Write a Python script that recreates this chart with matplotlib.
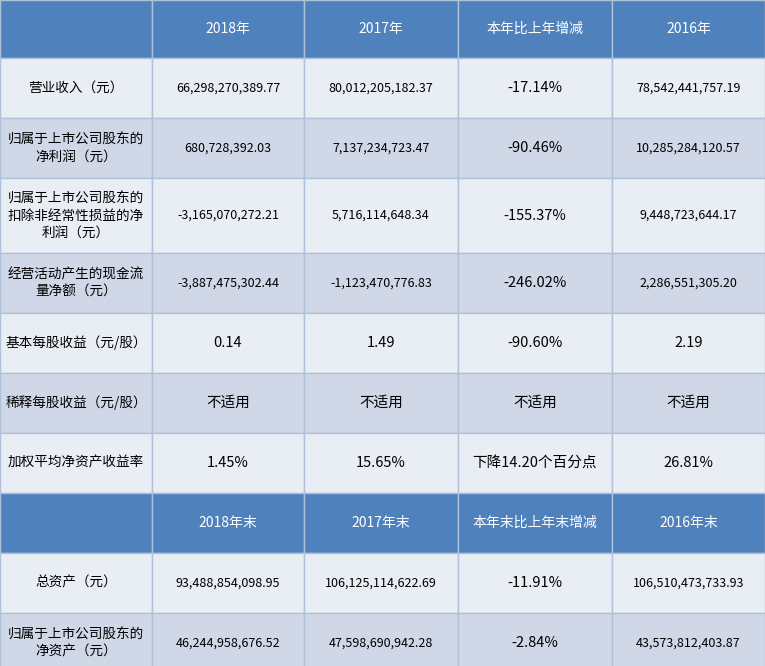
import matplotlib
matplotlib.use('Agg')
import matplotlib.pyplot as plt
from matplotlib.patches import Rectangle

plt.rcParams['font.family'] = ['Noto Sans CJK SC', 'DejaVu Sans']

# table content
header1 = ['', '2018年', '2017年', '本年比上年增减', '2016年']
header2 = ['', '2018年末', '2017年末', '本年末比上年末增减', '2016年末']

row_labels = ['营业收入（元）',
              '归属于上市公司股东的\n净利润（元）',
              '归属于上市公司股东的\n扣除非经常性损益的净\n利润（元）',
              '经营活动产生的现金流\n量净额（元）',
              '基本每股收益（元/股）',
              '稀释每股收益（元/股）',
              '加权平均净资产收益率']
col_2018 = ['66,298,270,389.77', '680,728,392.03', '-3,165,070,272.21',
            '-3,887,475,302.44', '0.14', '不适用', '1.45%']
col_2017 = ['80,012,205,182.37', '7,137,234,723.47', '5,716,114,648.34',
            '-1,123,470,776.83', '1.49', '不适用', '15.65%']
col_change = ['-17.14%', '-90.46%', '-155.37%', '-246.02%', '-90.60%',
              '不适用', '下降14.20个百分点']
col_2016 = ['78,542,441,757.19', '10,285,284,120.57', '9,448,723,644.17',
            '2,286,551,305.20', '2.19', '不适用', '26.81%']

row_labels2 = ['总资产（元）', '归属于上市公司股东的\n净资产（元）']
col_2018_end = ['93,488,854,098.95', '46,244,958,676.52']
col_2017_end = ['106,125,114,622.69', '47,598,690,942.28']
col_change_end = ['-11.91%', '-2.84%']
col_2016_end = ['106,510,473,733.93', '43,573,812,403.87']

# layout in pixels
col_widths = [152, 152, 154, 154, 153]
row_heights = [58, 60, 60, 75, 60, 60, 60, 60, 60, 60, 60]

blue = '#4F81BD'
light = '#E9EDF4'
dark = '#D0D8E8'
grid = '#B0C2DA'

rows = [('h', header1)]
for i in range(len(row_labels)):
    rows.append(('d', [row_labels[i], col_2018[i], col_2017[i], col_change[i], col_2016[i]]))
rows.append(('h', header2))
for i in range(len(row_labels2)):
    rows.append(('d', [row_labels2[i], col_2018_end[i], col_2017_end[i],
                       col_change_end[i], col_2016_end[i]]))

fig = plt.figure(figsize=(7.65, 6.66), dpi=100)
ax = fig.add_axes([0, 0, 1, 1])
ax.set_xlim(0, 765)
ax.set_ylim(666, 0)
ax.axis('off')


def is_long_number(s):
    # big money amounts are printed smaller than percentages
    return all(c in '0123456789,.-' for c in s) and len(s) > 8


y = 0
shade = 0
for r, (kind, cells) in enumerate(rows):
    h = row_heights[r]
    if kind == 'h':
        fc = blue
        shade = 0
    else:
        fc = light if shade % 2 == 0 else dark
        shade += 1
    x = 0
    for j, txt in enumerate(cells):
        w = col_widths[j]
        ax.add_patch(Rectangle((x, y), w, h, facecolor=fc, edgecolor=grid, linewidth=1.0))
        if kind == 'h':
            ax.text(x + w / 2, y + h / 2, txt, ha='center', va='center',
                    color='white', fontsize=10)
        elif j == 0:
            ax.text(x + w / 2, y + h / 2, txt, ha='center', va='center',
                    color='black', fontsize=9.8, linespacing=1.25)
        elif is_long_number(txt):
            ax.text(x + w / 2, y + h / 2, txt, ha='center', va='center',
                    color='black', fontsize=9)
        else:
            ax.text(x + w / 2, y + h / 2, txt, ha='center', va='center',
                    color='black', fontsize=10.5)
        x += w
    y += h

fig.savefig('out.png', dpi=100)
